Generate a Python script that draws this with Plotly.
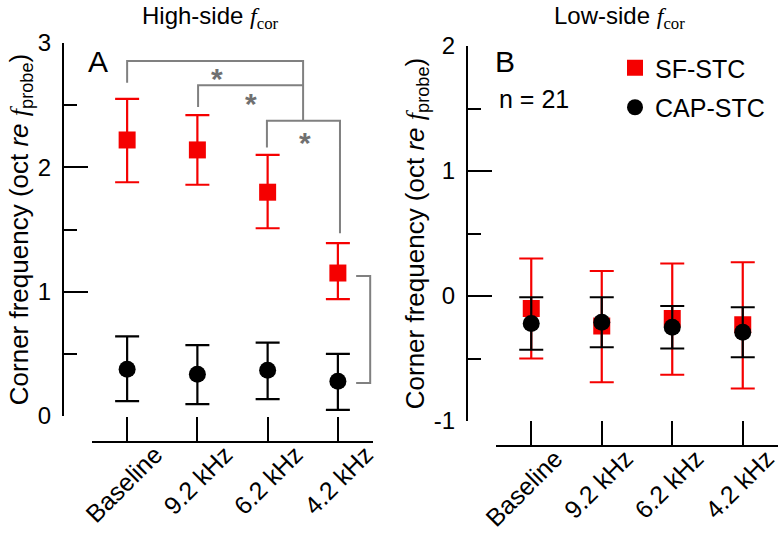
import plotly.graph_objects as go

W, H = 779, 536

categories = ["Baseline", "9.2 kHz", "6.2 kHz", "4.2 kHz"]
xpos = [0, 1, 2, 3]

# Panel A: high-side corner frequency (oct re f_probe)
sf_high_mean = [2.22, 2.14, 1.80, 1.15]
sf_high_upper = [2.55, 2.42, 2.10, 1.39]
sf_high_lower = [1.88, 1.86, 1.51, 0.94]
cap_high_mean = [0.376, 0.336, 0.368, 0.28]
cap_high_upper = [0.64, 0.57, 0.59, 0.50]
cap_high_lower = [0.12, 0.096, 0.136, 0.05]

# Panel B: low-side corner frequency
sf_low_mean = [-0.10, -0.24, -0.18, -0.23]
sf_low_upper = [0.30, 0.20, 0.26, 0.27]
sf_low_lower = [-0.50, -0.69, -0.63, -0.74]
cap_low_mean = [-0.22, -0.21, -0.25, -0.29]
cap_low_upper = [-0.01, -0.01, -0.08, -0.09]
cap_low_lower = [-0.43, -0.41, -0.42, -0.49]

yticks_a = [0, 1, 2, 3]
yticks_b = [-1, 0, 1, 2]

RED = "#f50000"
BLACK = "#000000"
GRAY = "#808080"
SANS = "Liberation Sans, Arial, sans-serif"
SERIF = "Liberation Serif, Times New Roman, serif"


def errs(mean, upper, lower):
    return ([u - m for u, m in zip(upper, mean)], [m - l for m, l in zip(mean, lower)])


fig = go.Figure()


def add_series(mean, upper, lower, name, color, symbol, xa, ya, show):
    plus, minus = errs(mean, upper, lower)
    fig.add_trace(go.Scatter(
        x=xpos, y=mean, mode="markers", name=name, legendgroup=name,
        showlegend=show, xaxis=xa, yaxis=ya,
        marker=dict(symbol=symbol, size=17, color=color, line=dict(width=0)),
        error_y=dict(type="data", array=plus, arrayminus=minus, color=color,
                     thickness=2.2, width=12),
        cliponaxis=False,
    ))


add_series(sf_high_mean, sf_high_upper, sf_high_lower, "SF-STC", RED, "square", "x", "y", True)
add_series(cap_high_mean, cap_high_upper, cap_high_lower, "CAP-STC", BLACK, "circle", "x", "y", True)
add_series(sf_low_mean, sf_low_upper, sf_low_lower, "SF-STC", RED, "square", "x2", "y2", False)
add_series(cap_low_mean, cap_low_upper, cap_low_lower, "CAP-STC", BLACK, "circle", "x2", "y2", False)

ytitle = ("Corner frequency (oct <i>re</i> "
          f"<span style='font-family:{SERIF}'><i>f</i></span><sub>probe</sub>)")

xcommon = dict(
    range=[-0.5, 3.5], tickvals=xpos, ticktext=categories, anchor="free",
    showline=True, linewidth=2, linecolor=BLACK, ticks="inside", ticklen=24,
    tickwidth=2, tickcolor=BLACK, tickangle=-45, showgrid=False, zeroline=False,
    tickfont=dict(family=SANS, size=25, color=BLACK), automargin=False,
    ticklabelstandoff=-13, ticklabeloverflow="allow",
    fixedrange=True,
)
ycommon = dict(
    anchor="free", showline=True, linewidth=2, linecolor=BLACK, ticks="inside",
    ticklen=24, tickwidth=2, tickcolor=BLACK, showgrid=False, zeroline=False,
    tickfont=dict(family=SANS, size=24, color=BLACK), automargin=False,
    ticklabelstandoff=6,
    minor=dict(dtick=0.5, ticklen=13, tickwidth=2, tickcolor=BLACK, ticks="inside"),
    title=dict(text=ytitle, font=dict(family=SANS, size=26, color=BLACK), standoff=1),
    fixedrange=True,
)

fig.update_layout(
    width=W, height=H, margin=dict(l=0, r=0, t=0, b=0),
    paper_bgcolor="white", plot_bgcolor="white",
    xaxis=dict(domain=[92 / W, 373 / W], position=(H - 442) / H, ticklabelshift=28, **xcommon),
    yaxis=dict(domain=[(H - 416) / H, (H - 43) / H], range=[0, 3], tickvals=yticks_a,
               position=63 / W, **ycommon),
    xaxis2=dict(domain=[496 / W, 778 / W], position=(H - 446) / H, ticklabelshift=24, **xcommon),
    yaxis2=dict(domain=[(H - 421) / H, (H - 46) / H], range=[-1, 2], tickvals=yticks_b,
                ticktext=["-1", "0", "1", "2"], position=467 / W, **ycommon),
    showlegend=True,
    legend=dict(x=615 / W, y=(H - 45) / H, xanchor="left", yanchor="top",
                font=dict(family=SANS, size=25, color=BLACK), bgcolor="rgba(0,0,0,0)",
                tracegroupgap=4, itemclick=False, itemdoubleclick=False),
)

# Panel titles
for label, cx in (("High-side", 210), ("Low-side", 619)):
    fig.add_annotation(
        text=f"{label} <span style='font-family:{SERIF}'><i>f</i><sub>cor</sub></span>",
        x=cx / W, y=(H - 17) / H, xref="paper", yref="paper", xanchor="center",
        yanchor="middle", showarrow=False, font=dict(family=SANS, size=24, color=BLACK))

# Panel letters and n
fig.add_annotation(text="A", x=98 / W, y=(H - 62) / H, xref="paper", yref="paper",
                   xanchor="center", yanchor="middle",
                   showarrow=False, font=dict(family=SANS, size=30, color=BLACK))
fig.add_annotation(text="B", x=505 / W, y=(H - 62) / H, xref="paper", yref="paper",
                   xanchor="center", yanchor="middle",
                   showarrow=False, font=dict(family=SANS, size=30, color=BLACK))
fig.add_annotation(text="n = 21", x=497 / W, y=(H - 99) / H, xref="paper", yref="paper",
                   xanchor="left", yanchor="middle",
                   showarrow=False, font=dict(family=SANS, size=25, color=BLACK))

# Significance brackets (panel A)
brackets = [
    [(0, 2.68), (0, 2.855), (2.505, 2.855), (2.505, 2.38)],
    [(1.01, 2.485), (1.01, 2.66), (2.505, 2.66)],
    [(1.99, 2.16), (1.99, 2.375), (3.03, 2.375), (3.03, 1.47)],
    [(3.26, 1.126), (3.46, 1.126), (3.46, 0.265), (3.26, 0.265)],
]
for pts in brackets:
    path = "M " + " L ".join(f"{px},{py}" for px, py in pts)
    fig.add_shape(type="path", path=path, xref="x", yref="y",
                  line=dict(color=GRAY, width=2))

stars = [(1.28, 2.77), (1.77, 2.57), (2.53, 2.26), (3.67, 0.67)]
for sx, sy in stars:
    fig.add_annotation(text="<b>*</b>", x=sx, y=sy, xref="x", yref="y", showarrow=False,
                       xanchor="center", yanchor="middle",
                       yshift=-7, font=dict(family=SANS, size=30, color="#707070"))

fig.write_html("out.html", config={"displayModeBar": False},
               post_script="document.body.style.margin='0';")
